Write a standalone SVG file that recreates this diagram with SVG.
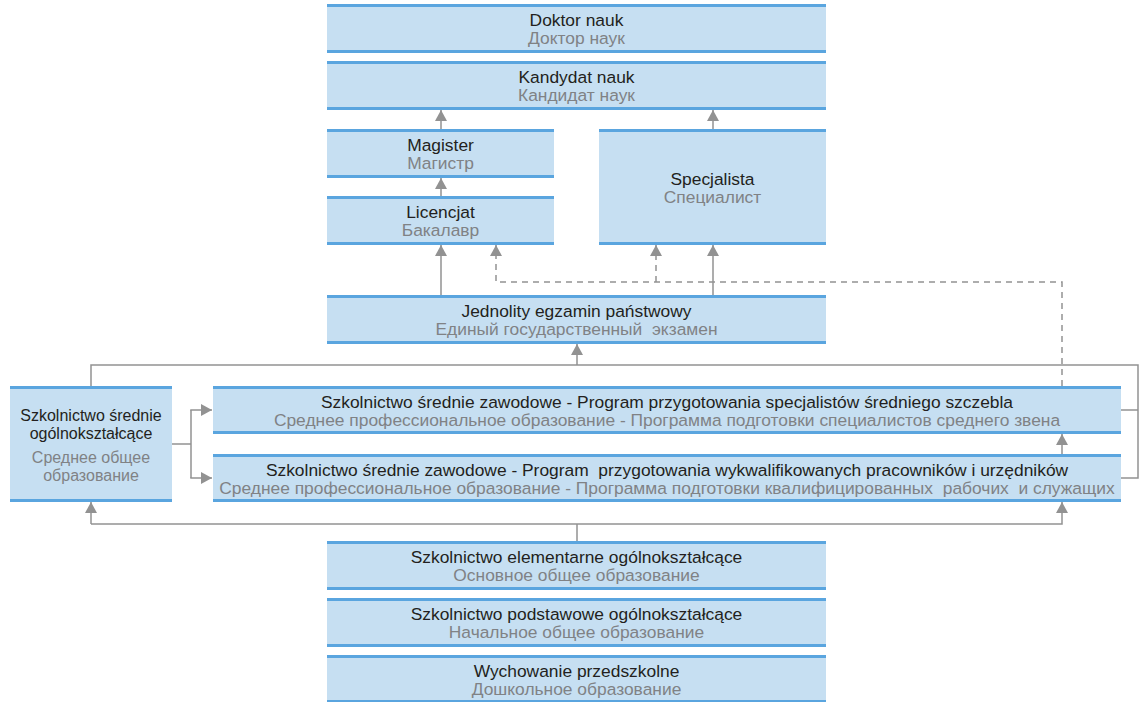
<svg xmlns="http://www.w3.org/2000/svg" width="1140" height="702" viewBox="0 0 1140 702">
<style>
.bx{fill:#c6dff2}
.ln{fill:#5aa5df}
.t1{font-family:"Liberation Sans",Arial,sans-serif;font-size:17.4px;fill:#231f20;text-anchor:middle}
.t2{font-family:"Liberation Sans",Arial,sans-serif;font-size:17.4px;fill:#808285;text-anchor:middle}
.sm{font-size:16px}
.c{fill:none;stroke:#929292;stroke-width:1.5}
.d{fill:none;stroke:#929292;stroke-width:1.5;stroke-dasharray:6,5}
</style>
<defs>
<marker id="ah" markerWidth="12" markerHeight="12" refX="11" refY="6" orient="auto" markerUnits="userSpaceOnUse">
<path d="M0,0 L11,6 L0,12 Z" fill="#929292"/>
</marker>
</defs>
<rect width="1140" height="702" fill="#ffffff"/>

<g id="doktor">
<rect class="bx" x="327" y="5" width="499" height="47"/>
<rect class="ln" x="327" y="4" width="499" height="3"/>
<rect class="ln" x="327" y="50" width="499" height="3"/>
<text class="t1" x="576.5" y="26">Doktor nauk</text>
<text class="t2" x="576.5" y="44">Доктор наук</text>
</g>
<g id="kandydat">
<rect class="bx" x="327" y="62" width="499" height="47"/>
<rect class="ln" x="327" y="61" width="499" height="3"/>
<rect class="ln" x="327" y="107" width="499" height="3"/>
<text class="t1" x="576.5" y="83">Kandydat nauk</text>
<text class="t2" x="576.5" y="101">Кандидат наук</text>
</g>
<g id="magister">
<rect class="bx" x="327" y="130" width="227" height="47"/>
<rect class="ln" x="327" y="129" width="227" height="3"/>
<rect class="ln" x="327" y="175" width="227" height="3"/>
<text class="t1" x="440.5" y="151">Magister</text>
<text class="t2" x="440.5" y="169">Магистр</text>
</g>
<g id="licencjat">
<rect class="bx" x="327" y="197" width="227" height="47"/>
<rect class="ln" x="327" y="196" width="227" height="3"/>
<rect class="ln" x="327" y="242" width="227" height="3"/>
<text class="t1" x="440.5" y="218">Licencjat</text>
<text class="t2" x="440.5" y="236">Бакалавр</text>
</g>
<g id="specjalista">
<rect class="bx" x="599" y="130" width="227" height="114"/>
<rect class="ln" x="599" y="129" width="227" height="3"/>
<rect class="ln" x="599" y="242" width="227" height="3"/>
<text class="t1" x="712.5" y="185">Specjalista</text>
<text class="t2" x="712.5" y="203">Специалист</text>
</g>
<g id="egzamin">
<rect class="bx" x="327" y="296" width="499" height="47"/>
<rect class="ln" x="327" y="295" width="499" height="3"/>
<rect class="ln" x="327" y="341" width="499" height="3"/>
<text class="t1" x="576.5" y="317">Jednolity egzamin państwowy</text>
<text class="t2" x="576.5" y="335" xml:space="preserve">Единый государственный  экзамен</text>
</g>
<g id="srednie-ogolne">
<rect class="bx" x="10" y="387" width="162" height="114"/>
<rect class="ln" x="10" y="386" width="162" height="3"/>
<rect class="ln" x="10" y="499" width="162" height="3"/>
<text class="t1 sm" x="91" y="421">Szkolnictwo średnie</text>
<text class="t1 sm" x="91" y="439">ogólnokształcące</text>
<text class="t2 sm" x="91" y="463">Среднее общее</text>
<text class="t2 sm" x="91" y="481">образование</text>
</g>
<g id="zawodowe-specjalisci">
<rect class="bx" x="213" y="387" width="908" height="46"/>
<rect class="ln" x="213" y="386" width="908" height="3"/>
<rect class="ln" x="213" y="431" width="908" height="3"/>
<text class="t1" x="667" y="408">Szkolnictwo średnie zawodowe - Program przygotowania specjalistów średniego szczebla</text>
<text class="t2" x="667" y="426">Среднее профессиональное образование - Программа подготовки специалистов среднего звена</text>
</g>
<g id="zawodowe-pracownicy">
<rect class="bx" x="213" y="455" width="908" height="46"/>
<rect class="ln" x="213" y="454" width="908" height="3"/>
<rect class="ln" x="213" y="499" width="908" height="3"/>
<text class="t1" x="667" y="476" xml:space="preserve">Szkolnictwo średnie zawodowe - Program  przygotowania wykwalifikowanych pracowników i urzędników</text>
<text class="t2" x="667" y="494" xml:space="preserve">Среднее профессиональное образование - Программа подготовки квалифицированных  рабочих  и служащих</text>
</g>
<g id="elementarne">
<rect class="bx" x="327" y="542" width="499" height="47"/>
<rect class="ln" x="327" y="541" width="499" height="3"/>
<rect class="ln" x="327" y="587" width="499" height="3"/>
<text class="t1" x="576.5" y="563">Szkolnictwo elementarne ogólnokształcące</text>
<text class="t2" x="576.5" y="581">Основное общее образование</text>
</g>
<g id="podstawowe">
<rect class="bx" x="327" y="599" width="499" height="47"/>
<rect class="ln" x="327" y="598" width="499" height="3"/>
<rect class="ln" x="327" y="644" width="499" height="3"/>
<text class="t1" x="576.5" y="620">Szkolnictwo podstawowe ogólnokształcące</text>
<text class="t2" x="576.5" y="638">Начальное общее образование</text>
</g>
<g id="przedszkolne">
<rect class="bx" x="327" y="656" width="499" height="46"/>
<rect class="ln" x="327" y="655" width="499" height="3"/>
<rect class="ln" x="327" y="700" width="499" height="3"/>
<text class="t1" x="576.5" y="677">Wychowanie przedszkolne</text>
<text class="t2" x="576.5" y="695">Дошкольное образование</text>
</g>

<g id="connectors">
<path class="c" d="M441,129 V110" marker-end="url(#ah)"/>
<path class="c" d="M713,129 V110" marker-end="url(#ah)"/>
<path class="c" d="M441,196 V178" marker-end="url(#ah)"/>
<path class="c" d="M441,295 V245" marker-end="url(#ah)"/>
<path class="c" d="M713,295 V245" marker-end="url(#ah)"/>
<path class="d" d="M1062,386 V282 H496 V245" marker-end="url(#ah)"/>
<path class="d" d="M656,282 V245" marker-end="url(#ah)"/>
<path class="c" d="M91,386 V365 H1138 V478 H1121"/>
<path class="c" d="M1121,410 H1138"/>
<path class="c" d="M577,365 V344" marker-end="url(#ah)"/>
<path class="c" d="M172,444 H191 M191,410 V478"/>
<path class="c" d="M190.25,410 H212" marker-end="url(#ah)"/>
<path class="c" d="M190.25,478 H212" marker-end="url(#ah)"/>
<path class="c" d="M1062,454 V434" marker-end="url(#ah)"/>
<path class="c" d="M577,541 V524"/>
<path class="c" d="M91,524 H1062 V502" marker-end="url(#ah)"/>
<path class="c" d="M91,524 V502" marker-end="url(#ah)"/>
</g>
</svg>
